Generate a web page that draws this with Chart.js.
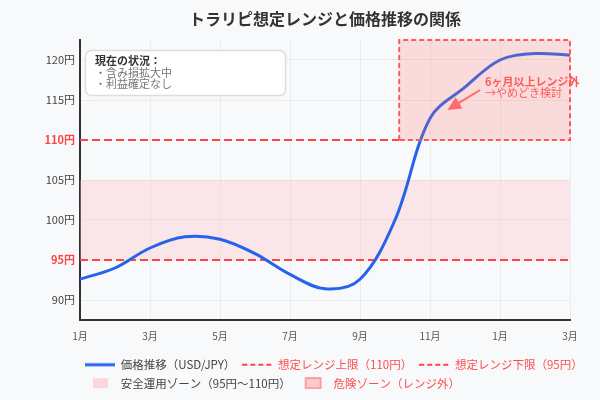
<!DOCTYPE html>
<html lang="ja">
<head>
<meta charset="utf-8">
<title>トラリピ想定レンジと価格推移の関係</title>
<script src="https://cdn.jsdelivr.net/npm/chart.js@4.4.1/dist/chart.umd.min.js"></script>
<style>
  html, body { margin: 0; padding: 0; background: #f8f9fa; }
  #wrap { width: 600px; height: 400px; }
</style>
</head>
<body>
<div id="wrap"><canvas id="rangeChart"></canvas></div>
<script>
// data
var months = ["1月", "2月", "3月", "4月", "5月", "6月", "7月", "8月", "9月", "10月", "11月", "12月", "1月", "2月", "3月"];
var price = [92.6, 94.0, 96.5, 97.9, 97.6, 95.8, 93.2, 91.4, 92.6, 100.0, 112.7, 116.6, 120.0, 120.8, 120.6];
var yTicks = [90, 95, 100, 105, 110, 115, 120];
var yMin = 87.5, yMax = 122.5;
var rangeUpper = 110;
var rangeLower = 95;
var safeZone = { low: 95, high: 105 };
var dangerZone = { from: 9.12, to: 14, low: 110, high: 122.5 };

var statusNote = { title: "現在の状況：", lines: ["・含み損拡大中", "・利益確定なし"] };
var exitNote = {
    lines: ["6ヶ月以上レンジ外", "→やめどき検討"],
    textAt: [11.57, 117.3],
    arrowFrom: [11.43, 116.25],
    arrowTo: [10.5, 113.75]
};

var FONT = "'Noto Sans CJK JP', 'Noto Sans', sans-serif";
var BLUE = "#2563eb";
var RED = "#ff4444";
var lastX = months.length - 1;

function isLimit(c) {
    var v = c && c.tick ? c.tick.value : null;
    return v === rangeUpper || v === rangeLower;
}

// legend swatches
function swatch(draw) {
    var c = document.createElement("canvas");
    c.width = 30;
    c.height = 12;
    draw(c.getContext("2d"));
    return c;
}
var lineSwatch = swatch(function (g) {
    g.strokeStyle = BLUE; g.lineWidth = 3;
    g.beginPath(); g.moveTo(0, 6); g.lineTo(30, 6); g.stroke();
});
var dashSwatch = swatch(function (g) {
    g.strokeStyle = RED; g.lineWidth = 2; g.setLineDash([5, 3]);
    g.beginPath(); g.moveTo(0, 6); g.lineTo(30, 6); g.stroke();
});
var safeSwatch = swatch(function (g) {
    g.fillStyle = "#fdd5dc";
    g.fillRect(8, 1, 15, 10);
});
var dangerSwatch = swatch(function (g) {
    g.fillStyle = "rgba(255, 100, 100, 0.3)";
    g.fillRect(8, 1, 15, 10);
    g.strokeStyle = "#ff8a8a"; g.lineWidth = 1.5;
    g.strokeRect(8, 1, 15, 10);
});

var legendEntries = [
    { index: 0, text: "価格推移（USD/JPY）", color: "#444", style: lineSwatch },
    { index: 1, text: "想定レンジ上限（110円）", color: "#ff4d4d", style: dashSwatch },
    { index: 2, text: "想定レンジ下限（95円）", color: "#ff4d4d", style: dashSwatch },
    { index: 3, text: "安全運用ゾーン（95円〜110円）", color: "#444", style: safeSwatch },
    { index: 4, text: "危険ゾーン（レンジ外）", color: "#ff4d4d", style: dangerSwatch }
];

// annotations: status box + exit arrow
var notesPlugin = {
    id: "notes",
    afterDatasetsDraw: function (chart) {
        var ctx = chart.ctx, a = chart.chartArea;
        var xs = chart.scales.x, ys = chart.scales.y;
        ctx.save();

        ctx.beginPath();
        ctx.roundRect(a.left + 5.5, a.top + 10.5, 200, 45, 6);
        ctx.fillStyle = "rgba(255, 255, 255, 0.95)";
        ctx.fill();
        ctx.strokeStyle = "#dddddd";
        ctx.lineWidth = 1.5;
        ctx.stroke();

        ctx.textAlign = "left";
        ctx.textBaseline = "middle";
        ctx.fillStyle = "#333";
        ctx.font = "bold 11px " + FONT;
        ctx.fillText(statusNote.title, a.left + 15, a.top + 21);
        ctx.fillStyle = "#777";
        ctx.font = "11px " + FONT;
        statusNote.lines.forEach(function (t, i) {
            ctx.fillText(t, a.left + 15, a.top + 33 + i * 10.5);
        });

        // arrow
        var sx = xs.getPixelForValue(exitNote.arrowFrom[0]), sy = ys.getPixelForValue(exitNote.arrowFrom[1]);
        var tx = xs.getPixelForValue(exitNote.arrowTo[0]), ty = ys.getPixelForValue(exitNote.arrowTo[1]);
        var ang = Math.atan2(ty - sy, tx - sx), head = 15;
        ctx.strokeStyle = "#ff6b6b";
        ctx.fillStyle = "#ff6b6b";
        ctx.lineWidth = 2;
        ctx.beginPath();
        ctx.moveTo(sx, sy);
        ctx.lineTo(tx - head * 0.8 * Math.cos(ang), ty - head * 0.8 * Math.sin(ang));
        ctx.stroke();
        ctx.beginPath();
        ctx.moveTo(tx, ty);
        ctx.lineTo(tx - head * Math.cos(ang - 0.45), ty - head * Math.sin(ang - 0.45));
        ctx.lineTo(tx - head * Math.cos(ang + 0.45), ty - head * Math.sin(ang + 0.45));
        ctx.closePath();
        ctx.fill();

        var px = xs.getPixelForValue(exitNote.textAt[0]), py = ys.getPixelForValue(exitNote.textAt[1]);
        ctx.fillStyle = "#ff5a5a";
        ctx.font = "bold 11px " + FONT;
        ctx.fillText(exitNote.lines[0], px, py);
        ctx.font = "11px " + FONT;
        ctx.fillText(exitNote.lines[1], px, py + 11.7);

        ctx.restore();
    }
};

// start the legend rows under the plot instead of at the canvas edge
var legendOffset = {
    id: "legendOffset",
    afterLayout: function (chart) {
        if (chart.legend) {
            chart.legend.left = 78;
        }
    }
};

var ctx = document.getElementById("rangeChart").getContext("2d");

new Chart(ctx, {
    type: "line",
    data: {
        datasets: [
            {
                label: "価格推移（USD/JPY）",
                data: price.map(function (v, i) { return { x: i, y: v }; }),
                borderColor: BLUE,
                borderWidth: 3,
                tension: 0.35,
                pointRadius: 0,
                fill: false,
                order: 1
            },
            {
                label: "想定レンジ上限（110円）",
                data: [{ x: 0, y: rangeUpper }, { x: dangerZone.from, y: rangeUpper }],
                borderColor: RED,
                borderWidth: 2,
                borderDash: [8, 4],
                pointRadius: 0,
                fill: false,
                order: 2
            },
            {
                label: "想定レンジ下限（95円）",
                data: [{ x: 0, y: rangeLower }, { x: lastX, y: rangeLower }],
                borderColor: RED,
                borderWidth: 2,
                borderDash: [8, 4],
                pointRadius: 0,
                fill: false,
                order: 3
            },
            {
                label: "安全運用ゾーン（95円〜110円）",
                data: [{ x: 0, y: safeZone.high }, { x: lastX, y: safeZone.high }],
                borderWidth: 0,
                borderColor: "transparent",
                backgroundColor: "rgba(255, 182, 193, 0.3)",
                pointRadius: 0,
                fill: { value: safeZone.low },
                order: 5
            },
            {
                label: "危険ゾーン（レンジ外）",
                data: [
                    { x: dangerZone.from, y: dangerZone.low },
                    { x: dangerZone.from, y: dangerZone.high },
                    { x: dangerZone.to, y: dangerZone.high },
                    { x: dangerZone.to, y: dangerZone.low },
                    { x: dangerZone.from, y: dangerZone.low }
                ],
                borderColor: "#ff5a5a",
                borderWidth: 2,
                borderDash: [5, 3],
                backgroundColor: "rgba(255, 100, 100, 0.2)",
                pointRadius: 0,
                tension: 0,
                fill: "shape",
                clip: false,
                order: 0
            }
        ]
    },
    options: {
        responsive: true,
        maintainAspectRatio: false,
        animation: false,
        layout: {
            padding: { top: 0, left: 0, right: 0, bottom: 1 }
        },
        plugins: {
            tooltip: { enabled: false },
            title: {
                display: true,
                text: "トラリピ想定レンジと価格推移の関係",
                fullSize: false,
                color: "#333",
                font: { size: 16, weight: "bold", family: FONT },
                padding: { top: 9, bottom: 11.8 }
            },
            legend: {
                position: "bottom",
                align: "start",
                labels: {
                    usePointStyle: true,
                    pointStyleWidth: 30,
                    padding: 7,
                    font: { size: 11.5, family: FONT },
                    generateLabels: function (chart) {
                        return legendEntries.map(function (e) {
                            return {
                                text: e.text,
                                datasetIndex: e.index,
                                fontColor: e.color,
                                pointStyle: e.style,
                                fillStyle: "transparent",
                                strokeStyle: "transparent",
                                lineWidth: 0,
                                hidden: !chart.isDatasetVisible(e.index)
                            };
                        });
                    }
                }
            }
        },
        scales: {
            x: {
                type: "linear",
                min: 0,
                max: lastX,
                afterBuildTicks: function (scale) {
                    scale.ticks = months
                        .map(function (m, i) { return { value: i }; })
                        .filter(function (t) { return t.value % 2 === 0; });
                },
                afterFit: function (scale) {
                    scale.height = 32;
                    scale.paddingRight = 30;
                },
                border: { color: "#333", width: 2 },
                grid: { color: "rgba(0, 0, 0, 0.05)", drawTicks: false },
                ticks: {
                    autoSkip: false,
                    maxRotation: 0,
                    padding: 10,
                    color: "#555",
                    font: { size: 10, family: FONT },
                    callback: function (v) { return months[v]; }
                }
            },
            y: {
                min: yMin,
                max: yMax,
                afterBuildTicks: function (scale) {
                    scale.ticks = yTicks.map(function (v) { return { value: v }; });
                },
                afterFit: function (scale) {
                    scale.width = 80;
                },
                border: { color: "#333", width: 2 },
                grid: { color: "rgba(0, 0, 0, 0.05)", drawTicks: false },
                ticks: {
                    padding: 5,
                    color: function (c) { return isLimit(c) ? RED : "#444"; },
                    font: function (c) {
                        return { size: 11, family: FONT, weight: isLimit(c) ? "bold" : "normal" };
                    },
                    callback: function (v) { return v + "円"; }
                }
            }
        }
    },
    plugins: [notesPlugin, legendOffset]
});
</script>
</body>
</html>
